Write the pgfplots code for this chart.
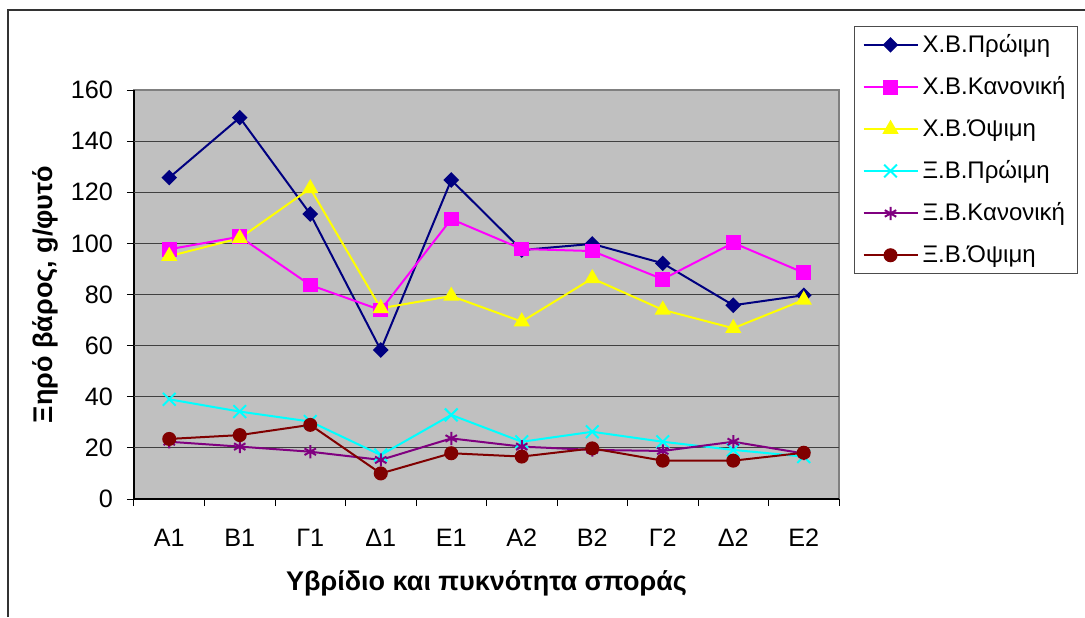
\documentclass[border=0pt]{standalone}
\usepackage{fontspec}
\setmainfont{Liberation Sans}
\usepackage{pgfplots}
\pgfplotsset{compat=1.18}
\definecolor{plotbg}{HTML}{C0C0C0}
\definecolor{cnavy}{HTML}{000080}
\definecolor{cmag}{HTML}{FF00FF}
\definecolor{cyel}{HTML}{FFFF00}
\definecolor{ccyan}{HTML}{00FFFF}
\definecolor{cpurp}{HTML}{800080}
\definecolor{cdred}{HTML}{800000}
\begin{document}
\begin{tikzpicture}
\useasboundingbox (0,0) rectangle (542.5pt,308.5pt);
\draw[black!80, line width=0.6pt] (4pt,0) -- (4pt,303.5pt) -- (542.5pt,303.5pt);
\begin{axis}[
  at={(67pt,59pt)}, anchor=south west,
  scale only axis, width=352.5pt, height=204.5pt,
  xmin=0.5, xmax=10.5, ymin=0, ymax=160,
  axis lines=left, axis line style={-, black, line width=0.6pt},
  axis background/.style={fill=plotbg, draw=gray, line width=0.6pt},
  xtick={1,...,10},
  xticklabels={Α1,Β1,Γ1,Δ1,Ε1,Α2,Β2,Γ2,Δ2,Ε2},
  minor xtick={0.5,1.5,...,10.5},
  ytick={0,20,...,160},
  extra y ticks={20,40,...,140},
  extra y tick labels={},
  extra y tick style={grid=major, major tick length=0pt},
  major grid style={black!75, line width=0.5pt},
  tick align=outside, major tick length=3.5pt, minor tick length=3.5pt,
  major x tick style={draw=none},
  tick style={black, line width=0.5pt},
  ticklabel style={font=\fontsize{12.6}{14}\selectfont},
  xticklabel style={yshift=-8pt},
  yticklabel style={xshift=-3.5pt},
  /pgf/number format/assume math mode=true,
  xlabel={Υβρίδιο και πυκνότητα σποράς},
  ylabel={Ξηρό βάρος, g/φυτό},
  xlabel style={at={(axis description cs:0.5,-0.2054)}, anchor=center, font=\bfseries\fontsize{13.5}{15}\selectfont},
  ylabel style={at={(axis description cs:-0.1262,0.5)}, anchor=center, font=\bfseries\fontsize{13.5}{15}\selectfont},
  legend style={at={(1.0213,1.157)}, anchor=north west, draw=black!70, fill=white,
    font=\fontsize{12}{14}\selectfont, row sep=6.7pt, inner xsep=4pt, inner ysep=2pt, line width=0.5pt},
  legend cell align=left,
  legend image code/.code={\draw[mark repeat=2,mark phase=2] plot coordinates {(0pt,0pt) (13.5pt,0pt) (27pt,0pt)};},
  every axis plot/.append style={line width=1pt},
]
\addplot[cnavy, mark=square*, mark size=2.25pt, mark options={fill=cnavy, rotate=45}] coordinates {
(1,125.7) (2,149.2) (3,111.5) (4,58.3) (5,124.8) (6,97.4) (7,99.8) (8,92.2) (9,75.8) (10,79.7)};
\addlegendentry{Χ.Β.Πρώιμη}
\addplot[cmag, mark=square*, mark size=3.2pt, mark options={fill=cmag}] coordinates {
(1,97.7) (2,102.6) (3,83.7) (4,73.9) (5,109.5) (6,97.8) (7,97.0) (8,86.0) (9,100.2) (10,88.5)};
\addlegendentry{Χ.Β.Κανονική}
\addplot[cyel, mark=triangle*, mark size=3.7pt, mark options={fill=cyel}] coordinates {
(1,95) (2,102) (3,121.5) (4,74.6) (5,79.4) (6,69.4) (7,86.3) (8,74) (9,66.8) (10,77.9)};
\addlegendentry{Χ.Β.Όψιμη}
\addplot[ccyan, mark=x, mark size=4.5pt] coordinates {
(1,39) (2,34.2) (3,30.3) (4,17.2) (5,32.9) (6,22.4) (7,26.3) (8,22.4) (9,19.2) (10,16.6)};
\addlegendentry{Ξ.Β.Πρώιμη}
\addplot[cpurp, mark=asterisk, mark size=3.3pt] coordinates {
(1,22.4) (2,20.5) (3,18.5) (4,15.3) (5,23.7) (6,20.5) (7,19.2) (8,18.8) (9,22.4) (10,17.8)};
\addlegendentry{Ξ.Β.Κανονική}
\addplot[cdred, mark=*, mark size=3pt, mark options={fill=cdred}] coordinates {
(1,23.5) (2,25) (3,29) (4,10) (5,17.9) (6,16.6) (7,19.8) (8,15) (9,15) (10,18.1)};
\addlegendentry{Ξ.Β.Όψιμη}
\end{axis}
\end{tikzpicture}
\end{document}
